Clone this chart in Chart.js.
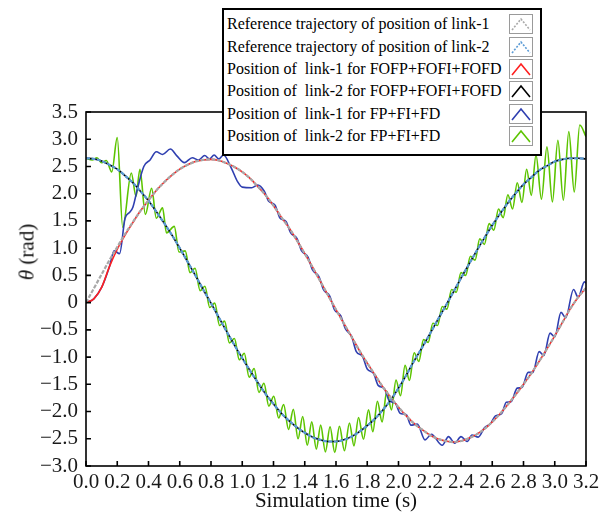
<!DOCTYPE html>
<html lang="en">
<head>
<meta charset="UTF-8">
<title>Link positions</title>
<script src="https://cdn.jsdelivr.net/npm/chart.js"></script>
<style>
  body {
    margin: 0;
    background: #ffffff;
    font-family: 'Liberation Serif', 'Times New Roman', serif;
  }
  #wrap {
    position: relative;
    width: 608px;
    height: 516px;
  }
  #chart {
    position: absolute;
    left: 0;
    top: 0;
  }
  #ylab {
    position: absolute;
    left: 27px;
    top: 252px;
    transform: translate(-50%, -50%) rotate(-90deg);
    font-size: 21px;
    color: #111;
    white-space: nowrap;
  }
  #legend {
    position: absolute;
    left: 222px;
    top: 8px;
    width: 320px;
    height: 148px;
    box-sizing: border-box;
    border: 2px solid #000;
    background: #fff;
    padding: 3px 7px 0 3px;
  }
  .row {
    display: flex;
    align-items: center;
    justify-content: space-between;
    height: 22.4px;
    font-size: 16px;
    color: #000;
    white-space: pre;
  }
  .row svg { display: block; }
</style>
</head>
<body>
<div id="wrap">
  <canvas id="chart" width="608" height="516"></canvas>
  <div id="ylab"><i>θ</i> (rad)</div>
  <div id="legend"></div>
</div>

<script>
// time grid for the reference / FOFP curves (s)
const tGrid = [0.00, 0.05, 0.10, 0.15, 0.20, 0.25, 0.30, 0.35, 0.40, 0.45, 0.50, 0.55, 0.60, 0.65, 0.70, 0.75,
  0.80, 0.85, 0.90, 0.95, 1.00, 1.05, 1.10, 1.15, 1.20, 1.25, 1.30, 1.35, 1.40, 1.45, 1.50, 1.55,
  1.60, 1.65, 1.70, 1.75, 1.80, 1.85, 1.90, 1.95, 2.00, 2.05, 2.10, 2.15, 2.20, 2.25, 2.30, 2.35,
  2.40, 2.45, 2.50, 2.55, 2.60, 2.65, 2.70, 2.75, 2.80, 2.85, 2.90, 2.95, 3.00, 3.05, 3.10, 3.15, 3.20];

// reference trajectory, link-1 (rad)
const ref1 = [0.00, 0.26, 0.52, 0.78, 1.02, 1.26, 1.48, 1.69, 1.88, 2.06, 2.21, 2.34, 2.45, 2.53, 2.59, 2.62,
  2.63, 2.61, 2.56, 2.49, 2.40, 2.28, 2.13, 1.97, 1.78, 1.57, 1.37, 1.14, 0.90, 0.65, 0.39, 0.13,
  -0.13, -0.38, -0.63, -0.88, -1.11, -1.33, -1.55, -1.74, -1.92, -2.08, -2.22, -2.33, -2.43, -2.50, -2.54, -2.56,
  -2.54, -2.49, -2.42, -2.32, -2.19, -2.04, -1.87, -1.69, -1.50, -1.30, -1.08, -0.85, -0.61, -0.36, -0.11, 0.10, 0.27];

// reference trajectory, link-2 (rad)
const ref2 = [2.65, 2.64, 2.60, 2.53, 2.45, 2.33, 2.20, 2.04, 1.87, 1.67, 1.46, 1.24, 1.00, 0.75, 0.50, 0.24,
  -0.01, -0.27, -0.53, -0.78, -1.02, -1.25, -1.47, -1.68, -1.86, -2.03, -2.17, -2.29, -2.39, -2.47, -2.52, -2.55,
  -2.55, -2.52, -2.46, -2.37, -2.26, -2.13, -1.97, -1.79, -1.57, -1.33, -1.07, -0.83, -0.58, -0.32, -0.07, 0.19,
  0.45, 0.70, 0.95, 1.19, 1.42, 1.63, 1.83, 2.01, 2.17, 2.30, 2.43, 2.51, 2.59, 2.63, 2.65, 2.65, 2.64];

// FOFP+FOFI+FOFD, link-1 (lags a little at the start)
const fofp1 = [0.00, 0.07, 0.28, 0.66, 0.98, 1.24, 1.47, 1.69, 1.88, 2.06, 2.21, 2.34, 2.45, 2.53, 2.59, 2.62,
  2.63, 2.61, 2.56, 2.49, 2.40, 2.28, 2.13, 1.97, 1.78, 1.57, 1.37, 1.14, 0.90, 0.65, 0.39, 0.13,
  -0.13, -0.38, -0.63, -0.88, -1.11, -1.33, -1.55, -1.74, -1.92, -2.08, -2.22, -2.33, -2.43, -2.50, -2.54, -2.56,
  -2.54, -2.49, -2.42, -2.32, -2.19, -2.04, -1.87, -1.69, -1.50, -1.30, -1.08, -0.85, -0.61, -0.36, -0.11, 0.10, 0.27];

// FOFP+FOFI+FOFD, link-2 (sits on the reference)
const fofp2 = [2.65, 2.64, 2.60, 2.53, 2.45, 2.33, 2.20, 2.04, 1.87, 1.67, 1.46, 1.24, 1.00, 0.75, 0.50, 0.24,
  -0.01, -0.27, -0.53, -0.78, -1.02, -1.25, -1.47, -1.68, -1.86, -2.03, -2.17, -2.29, -2.39, -2.47, -2.52, -2.55,
  -2.55, -2.52, -2.46, -2.37, -2.26, -2.13, -1.97, -1.79, -1.57, -1.33, -1.07, -0.83, -0.58, -0.32, -0.07, 0.19,
  0.45, 0.70, 0.95, 1.19, 1.42, 1.63, 1.83, 2.01, 2.17, 2.30, 2.43, 2.51, 2.59, 2.63, 2.65, 2.65, 2.64];

// FP+FI+FD, link-1: turning points
const fp1T = [0.00, 0.05, 0.10, 0.15, 0.18, 0.215, 0.25, 0.28, 0.30, 0.33, 0.37, 0.41, 0.45, 0.49, 0.54, 0.58,
  0.63, 0.68, 0.72, 0.76, 0.79, 0.82, 0.85, 0.88, 0.93, 0.97, 1.00, 1.06, 1.10, 1.14, 1.17, 1.21,
  1.24, 1.28, 1.31, 1.35, 1.38, 1.42, 1.45, 1.49, 1.52, 1.56, 1.59, 1.63, 1.66, 1.70, 1.73, 1.77,
  1.80, 1.84, 1.87, 1.91, 1.94, 1.98, 2.01, 2.05, 2.08, 2.12, 2.17, 2.21, 2.28, 2.32, 2.36, 2.40,
  2.44, 2.47, 2.51, 2.55, 2.59, 2.62, 2.66, 2.69, 2.72, 2.76, 2.79, 2.83, 2.86, 2.90, 2.93, 2.97,
  3.00, 3.04, 3.07, 3.12, 3.15, 3.19, 3.20];
const fp1V = [0.00, 0.07, 0.28, 0.66, 0.95, 0.90, 1.55, 1.66, 1.75, 2.10, 2.50, 2.62, 2.77, 2.72, 2.82, 2.70,
  2.57, 2.66, 2.62, 2.70, 2.64, 2.71, 2.64, 2.71, 2.47, 2.22, 2.12, 2.11, 2.16, 2.05, 1.86, 1.79,
  1.56, 1.49, 1.28, 1.18, 0.95, 0.84, 0.60, 0.48, 0.24, 0.12, -0.13, -0.24, -0.48, -0.62, -0.90, -0.99,
  -1.22, -1.30, -1.52, -1.58, -1.80, -1.85, -2.03, -2.06, -2.25, -2.23, -2.52, -2.42, -2.62, -2.46, -2.58, -2.46,
  -2.55, -2.43, -2.47, -2.30, -2.22, -2.08, -2.04, -1.83, -1.82, -1.57, -1.56, -1.28, -1.28, -0.90, -0.97, -0.56,
  -0.63, -0.18, -0.28, 0.24, 0.10, 0.38, 0.36];

// FP+FI+FD, link-2: turning points
const fp2T = [0.00, 0.04, 0.07, 0.10, 0.13, 0.165, 0.20, 0.235, 0.29, 0.32, 0.345, 0.38, 0.42, 0.45, 0.49, 0.515,
  0.565, 0.595, 0.635, 0.666, 0.698, 0.73, 0.761, 0.792, 0.824, 0.855, 0.887, 0.918, 0.95, 0.981, 1.013, 1.044,
  1.076, 1.107, 1.139, 1.17, 1.202, 1.233, 1.265, 1.296, 1.327, 1.357, 1.387, 1.416, 1.445, 1.474, 1.502, 1.532,
  1.562, 1.592, 1.622, 1.654, 1.686, 1.715, 1.744, 1.776, 1.808, 1.836, 1.865, 1.895, 1.925, 1.955, 1.984, 2.013,
  2.042, 2.07, 2.10, 2.13, 2.16, 2.19, 2.22, 2.25, 2.28, 2.31, 2.34, 2.37, 2.40, 2.43, 2.46, 2.49,
  2.52, 2.55, 2.58, 2.61, 2.64, 2.67, 2.70, 2.73, 2.76, 2.79, 2.82, 2.85, 2.88, 2.915, 2.95, 2.985,
  3.02, 3.055, 3.09, 3.125, 3.16, 3.20];
const fp2V = [2.65, 2.62, 2.66, 2.57, 2.61, 2.40, 3.03, 1.38, 2.38, 1.95, 2.45, 1.62, 2.10, 1.55, 1.74, 1.28,
  1.40, 0.93, 0.95, 0.55, 0.63, 0.22, 0.30, -0.09, -0.01, -0.42, -0.34, -0.74, -0.66, -1.05, -0.93, -1.37,
  -1.21, -1.65, -1.48, -1.90, -1.72, -2.12, -1.87, -2.33, -1.96, -2.50, -2.09, -2.62, -2.19, -2.69, -2.25, -2.74,
  -2.28, -2.75, -2.27, -2.72, -2.21, -2.63, -2.11, -2.51, -1.97, -2.37, -1.81, -2.19, -1.63, -1.97, -1.42, -1.71,
  -1.15, -1.43, -0.92, -1.08, -0.68, -0.73, -0.38, -0.42, -0.07, -0.12, 0.24, 0.19, 0.55, 0.50, 0.85, 0.78,
  1.17, 1.07, 1.45, 1.33, 1.72, 1.56, 1.98, 1.72, 2.20, 1.84, 2.45, 1.97, 2.71, 1.90, 2.86, 1.85,
  2.98, 1.88, 3.14, 2.03, 3.26, 3.05];

const pts = (t, v) => t.map((x, i) => ({ x: x, y: v[i] }));

const series = [
  { label: 'Reference trajectory of position of link-1', color: '#a8a8a8', width: 2.2, dash: [4, 1.5], t: tGrid, v: ref1 },
  { label: 'Reference trajectory of position of link-2', color: '#5b9bd5', width: 2.2, dash: [4, 1.5], t: tGrid, v: ref2 },
  { label: 'Position of  link-1 for FOFP+FOFI+FOFD', color: '#ff2020', width: 1.6, dash: [], t: tGrid, v: fofp1 },
  { label: 'Position of  link-2 for FOFP+FOFI+FOFD', color: '#000000', width: 1.6, dash: [], t: tGrid, v: fofp2 },
  { label: 'Position of  link-1 for FP+FI+FD', color: '#2f3fb0', width: 1.6, dash: [], t: fp1T, v: fp1V },
  { label: 'Position of  link-2 for FP+FI+FD', color: '#5cc400', width: 1.6, dash: [], t: fp2T, v: fp2V }
];

// frame round the plot and inward tick marks
const frame = {
  id: 'frame',
  afterDraw(chart) {
    const { ctx, chartArea: a, scales: { x, y } } = chart;
    ctx.save();
    ctx.strokeStyle = '#000';
    ctx.lineWidth = 1.6;
    ctx.strokeRect(a.left, a.top, a.right - a.left, a.bottom - a.top);
    ctx.beginPath();
    x.ticks.forEach((t, i) => {
      const px = x.getPixelForTick(i);
      ctx.moveTo(px, a.bottom);
      ctx.lineTo(px, a.bottom - 5);
    });
    y.ticks.forEach((t, i) => {
      const py = y.getPixelForTick(i);
      ctx.moveTo(a.left, py);
      ctx.lineTo(a.left + 5, py);
    });
    ctx.stroke();
    ctx.restore();
  }
};

const serif = "'Liberation Serif', 'Times New Roman', serif";

new Chart(document.getElementById('chart'), {
  type: 'line',
  data: {
    datasets: series.map(s => ({
      label: s.label,
      data: pts(s.t, s.v),
      borderColor: s.color,
      borderWidth: s.width,
      borderDash: s.dash,
      pointRadius: 0,
      fill: false,
      cubicInterpolationMode: 'monotone'
    }))
  },
  options: {
    responsive: false,
    animation: false,
    layout: { padding: { left: 0, top: 112, right: 22, bottom: 0 } },
    plugins: { legend: { display: false }, tooltip: { enabled: false } },
    scales: {
      x: {
        type: 'linear',
        min: 0,
        max: 3.2,
        afterFit: s => { s.height = 50; },
        grid: { display: false, drawTicks: false },
        border: { display: false },
        ticks: {
          stepSize: 0.2,
          autoSkip: false,
          maxRotation: 0,
          padding: 4,
          color: '#1a1a1a',
          font: { family: serif, size: 21 },
          callback: v => v.toFixed(1)
        },
        title: {
          display: true,
          text: 'Simulation time (s)',
          color: '#111',
          font: { family: serif, size: 21 },
          padding: { top: 0, bottom: 2 }
        }
      },
      y: {
        min: -3,
        max: 3.5,
        afterFit: s => { s.width = 86; },
        grid: { display: false, drawTicks: false },
        border: { display: false },
        ticks: {
          stepSize: 0.5,
          autoSkip: false,
          padding: 8,
          color: '#1a1a1a',
          font: { family: serif, size: 21 },
          callback: v => Math.abs(v) < 1e-9 ? '0' : v.toFixed(1).replace('-', '\u2212')
        }
      }
    }
  },
  plugins: [frame]
});

// legend box: label on the left, line sample on the right
const legend = document.getElementById('legend');
series.forEach(s => {
  const row = document.createElement('div');
  row.className = 'row';
  const dash = s.dash.length ? 'stroke-dasharray="2 1.5"' : '';
  row.innerHTML = `<span>${s.label}</span>
    <svg width="24" height="20"><rect x="0.5" y="0.5" width="23" height="19" fill="none" stroke="#9a9a9a"/>
    <polyline points="3,16 12,5 21,16" fill="none" stroke="${s.color}" stroke-width="1.6" ${dash}/></svg>`;
  legend.appendChild(row);
});
</script>
</body>
</html>
